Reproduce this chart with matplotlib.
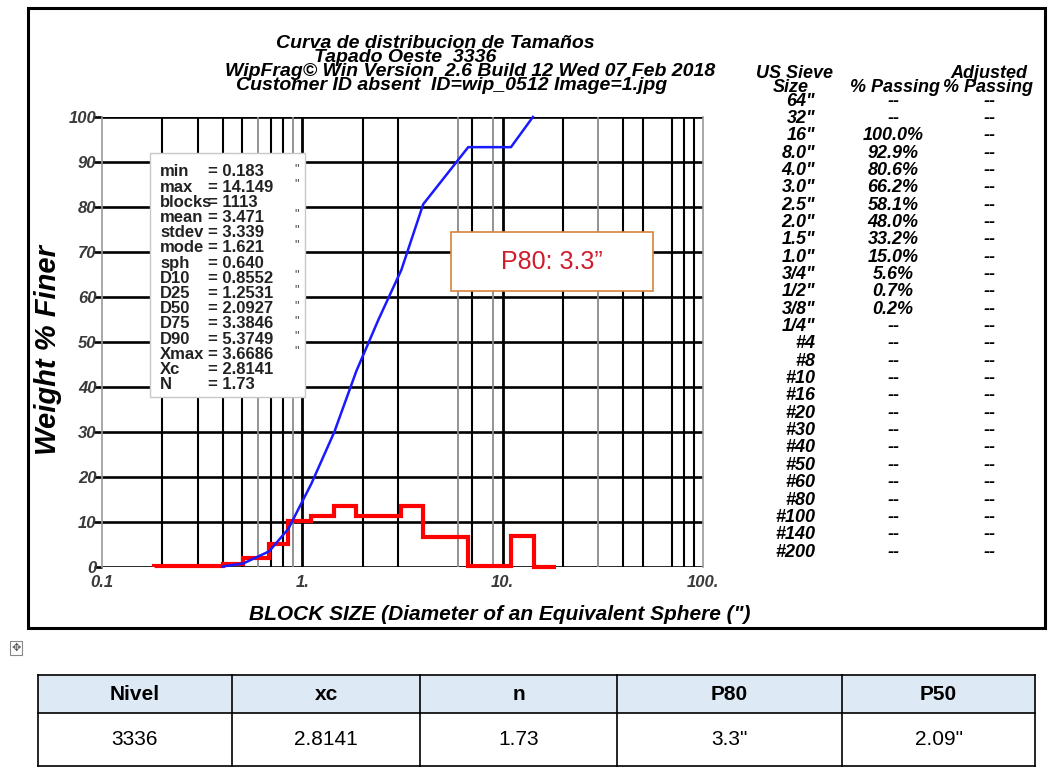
import matplotlib
matplotlib.use("Agg")
import matplotlib.pyplot as plt
from matplotlib.patches import Rectangle
from matplotlib import font_manager

W, H = 1055, 773

fnames = {f.name for f in font_manager.fontManager.ttflist}
narrow = 'Liberation Sans Narrow' if 'Liberation Sans Narrow' in fnames else 'Liberation Sans'
plt.rcParams['font.family'] = ['Liberation Sans', 'DejaVu Sans']

### histogram (% per size class), bin edges in inches
bin_edges = [0.181, 0.404, 0.508, 0.684, 0.852, 1.109, 1.444, 1.859, 3.12, 4.01, 6.73, 11.0, 14.4, 18.5]
bin_pct   = [0.2, 0.7, 2.0, 5.2, 10.2, 11.3, 13.6, 11.3, 13.6, 6.7, 0.3, 6.9, 0.0]

### cumulative passing curve
cum_size = [0.40, 0.508, 0.684, 0.852, 1.109, 1.444, 1.859, 2.40, 3.12, 4.01, 6.73, 11.0, 14.149]
cum_pct  = [0.1, 0.8, 3.5, 8.5, 18.5, 30.0, 43.5, 55.0, 66.0, 80.6, 93.3, 93.3, 100.0]

### statistics box
stat_names  = ['min', 'max', 'blocks', 'mean', 'stdev', 'mode', 'sph', 'D10', 'D25', 'D50', 'D75', 'D90', 'Xmax', 'Xc', 'N']
stat_values = ['= 0.183', '= 14.149', '= 1113', '= 3.471', '= 3.339', '= 1.621', '= 0.640',
               '= 0.8552', '= 1.2531', '= 2.0927', '= 3.3846', '= 5.3749', '= 3.6686', '= 2.8141', '= 1.73']
stat_inch   = [1, 1, 0, 1, 1, 1, 0, 1, 1, 1, 1, 1, 1, 0, 0]

### US sieve table
sieve_size = ['64"', '32"', '16"', '8.0"', '4.0"', '3.0"', '2.5"', '2.0"', '1.5"', '1.0"', '3/4"', '1/2"', '3/8"', '1/4"',
              '#4', '#8', '#10', '#16', '#20', '#30', '#40', '#50', '#60', '#80', '#100', '#140', '#200']
sieve_pass = ['--', '--', '100.0%', '92.9%', '80.6%', '66.2%', '58.1%', '48.0%', '33.2%', '15.0%', '5.6%', '0.7%', '0.2%', '--',
              '--', '--', '--', '--', '--', '--', '--', '--', '--', '--', '--', '--', '--']
sieve_adj  = ['--'] * len(sieve_size)

### summary table
tab_head = ['Nivel', 'xc', 'n', 'P80', 'P50']
tab_row  = ['3336', '2.8141', '1.73', '3.3"', '2.09"']

title_lines = ['Curva de distribucion de Tamaños',
               'Tapado Oeste  3336',
               'WipFrag© Win Version  2.6 Build 12 Wed 07 Feb 2018',
               'Customer ID absent  ID=wip_0512 Image=1.jpg']

yticks  = [0, 10, 20, 30, 40, 50, 60, 70, 80, 90, 100]
xticks  = [0.1, 1, 10, 100]
xtlabel = ['0.1', '1.', '10.', '100.']
grid_dark  = [0.2, 0.3, 0.4, 0.5, 0.7, 0.8, 2, 3, 7, 20, 40, 50, 70, 80, 90]
grid_major = [1, 10]
grid_light = [0.6, 0.9, 6, 9, 30]


def fx(px):
    return px / W


def fy(py):
    return 1 - py / H


def ftext(x, y, s, **kw):
    kw.setdefault('va', 'center')
    return fig.text(fx(x), fy(y), s, **kw)


def frect(x0, y0, x1, y1, **kw):
    r = Rectangle((fx(x0), fy(y1)), fx(x1) - fx(x0), fy(y0) - fy(y1), transform=fig.transFigure, **kw)
    fig.patches.append(r)
    return r


fig = plt.figure(figsize=(W / 100, H / 100), dpi=100)
fig.patch.set_facecolor('white')

# outer frame of the WipFrag picture
frect(28, 8, 1045, 628, fill=False, ec='black', lw=2.2, zorder=0)

ax = fig.add_axes([fx(102), fy(567), fx(703) - fx(102), fy(117) - fy(567)])
ax.set_xscale('log')
ax.set_xlim(0.1, 100)
ax.set_ylim(0, 100)

for v in yticks:
    ax.axhline(v, color='black', lw=1.9, zorder=1)
for v in grid_major:
    ax.axvline(v, color='black', lw=2.0, zorder=1)
for v in grid_dark:
    ax.axvline(v, color='black', lw=1.5, zorder=1)
for v in grid_light:
    ax.axvline(v, color='#8a8a8a', lw=1.3, zorder=1)

for s in ['left', 'right']:
    ax.spines[s].set_color('#9a9a9a')
    ax.spines[s].set_linewidth(1.2)
for s in ['top', 'bottom']:
    ax.spines[s].set_visible(False)

ax.stairs(bin_pct, bin_edges, baseline=0, color='red', lw=3.0, zorder=3, clip_on=False)
ax.plot(cum_size, cum_pct, color='#1a1aff', lw=1.8, zorder=4, clip_on=False)

ax.set_yticks(yticks)
ax.set_yticklabels([str(v) for v in yticks], fontsize=12, fontweight='bold', fontstyle='italic', color='#3a3a3a')
ax.tick_params(axis='y', length=6, width=1.9, color='black', pad=-2)
ax.set_xticks(xticks)
ax.set_xticks([], minor=True)
ax.set_xticklabels(xtlabel, fontsize=12, fontweight='bold', fontstyle='italic', color='#3a3a3a')
ax.tick_params(axis='x', length=0, pad=6)

# titles
title_pos = [(435, 44), (405, 57), (470, 71), (452, 85)]
for (x, y), s in zip(title_pos, title_lines):
    ftext(x, y, s, ha='center', fontsize=14, fontweight='bold', fontstyle='italic')

ftext(500, 615, 'BLOCK SIZE (Diameter of an Equivalent Sphere (")', ha='center',
      fontsize=15, fontweight='bold', fontstyle='italic')
ftext(48, 350, 'Weight % Finer', ha='center', rotation=90, fontsize=21,
      fontweight='bold', fontstyle='italic')

# statistics box
frect(150, 153, 305, 397, fc='white', ec='#c8c8c8', lw=1.0, zorder=5)
for i, (nm, val, inch) in enumerate(zip(stat_names, stat_values, stat_inch)):
    y = 172 + i * 15.2
    ftext(160, y, nm, ha='left', fontsize=12, fontweight='bold', color='#222222', zorder=6)
    ftext(208, y, val, ha='left', fontsize=12, fontweight='bold', color='#222222', zorder=6)
    if inch:
        ftext(294, y - 3, '"', ha='left', fontsize=9, color='#444444', zorder=6)

# P80 call-out
frect(451, 232, 653, 291, fc='white', ec='#d9823b', lw=1.2, zorder=5)
ftext(552, 262, 'P80: 3.3”', ha='center', fontsize=18, color='#d01c2c', zorder=6)

# sieve table
hdr = dict(fontsize=13, fontweight='bold', fontstyle='italic')
ftext(794, 74, 'US Sieve', ha='center', **hdr)
ftext(791, 87, 'Size', ha='center', **hdr)
ftext(895, 87, '% Passing', ha='center', **hdr)
ftext(989, 74, 'Adjusted', ha='center', **hdr)
ftext(988, 87, '% Passing', ha='center', **hdr)
for i, (sz, ps, adj) in enumerate(zip(sieve_size, sieve_pass, sieve_adj)):
    y = 101 + i * 17.35
    ftext(815, y, sz, ha='right', **hdr)
    ftext(893, y, ps, ha='center', **hdr)
    ftext(990, y, adj, ha='center', **hdr)

# move handle icon
frect(10, 641, 22, 655, fill=False, ec='#888888', lw=0.8)
ftext(16, 648, '✥', ha='center', fontsize=8, color='#555555', family='DejaVu Sans')

# summary table
col_x = [38, 232, 420, 617, 842, 1035]
row_y = [675, 713, 766]
frect(col_x[0], row_y[0], col_x[-1], row_y[1], fc='#dde9f5', ec='none', zorder=1)
for x in col_x:
    fig.add_artist(plt.Line2D([fx(x), fx(x)], [fy(row_y[0]), fy(row_y[-1])], color='black', lw=1.2))
for y in row_y:
    fig.add_artist(plt.Line2D([fx(col_x[0]), fx(col_x[-1])], [fy(y), fy(y)], color='black', lw=1.2))
for j in range(len(tab_head)):
    xc = (col_x[j] + col_x[j + 1]) / 2
    ftext(xc, (row_y[0] + row_y[1]) / 2, tab_head[j], ha='center', fontsize=15, fontweight='bold', family=narrow)
    ftext(xc, (row_y[1] + row_y[2]) / 2, tab_row[j], ha='center', fontsize=15, family=narrow)

fig.savefig('out.png', dpi=100)
